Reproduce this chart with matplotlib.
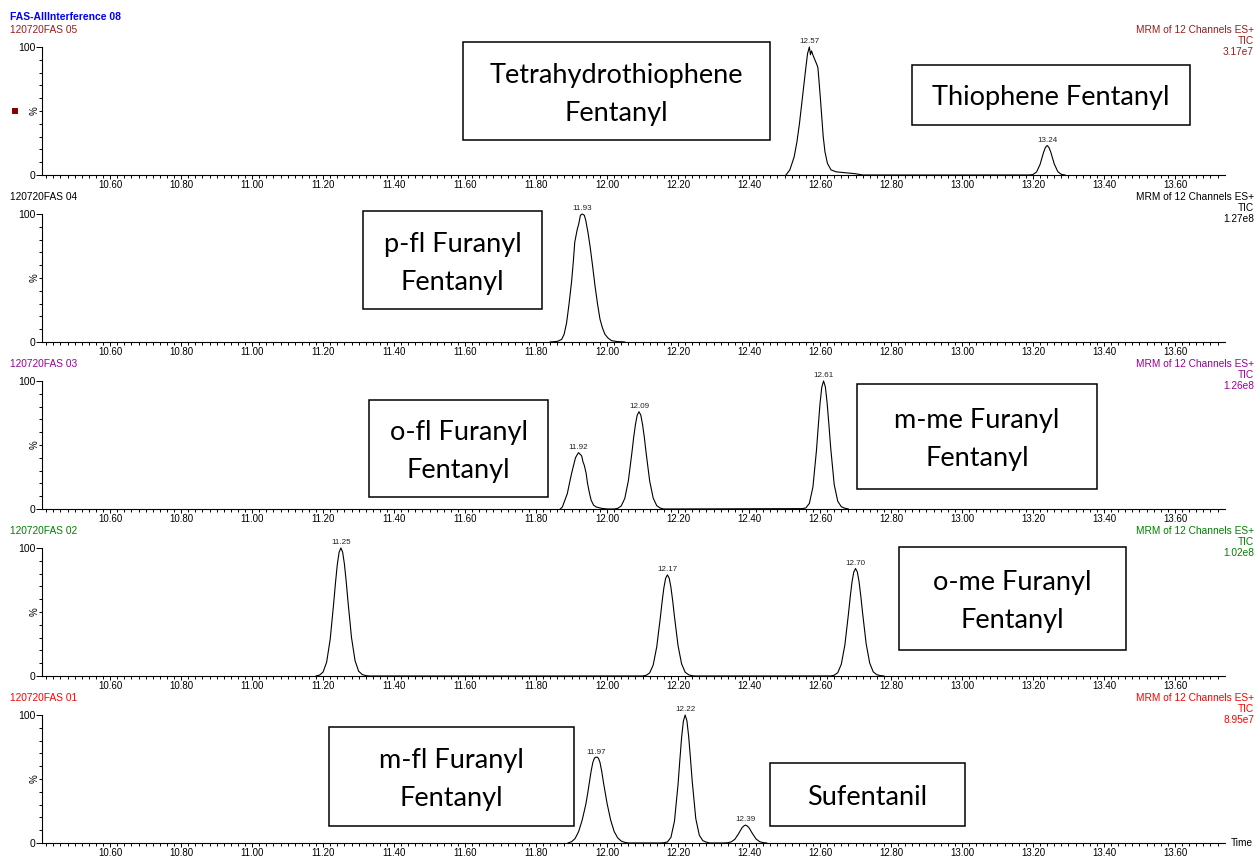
import numpy as np
import matplotlib.pyplot as plt
from matplotlib.patches import Rectangle

plt.rcParams['font.family'] = ['Liberation Sans', 'DejaVu Sans']

# traces: retention time (min) and relative intensity (%)
t_fas05 = [12.504, 12.515, 12.527, 12.535, 12.542, 12.549, 12.556, 12.561, 12.565, 12.570,
           12.573, 12.576, 12.581, 12.590, 12.594, 12.597, 12.601, 12.605, 12.609, 12.614,
           12.621, 12.631, 12.645, 12.670, 12.700, 12.720,
           13.19, 13.20, 13.21, 13.22, 13.23, 13.235, 13.24, 13.245, 13.25, 13.26, 13.27, 13.28, 13.29]
pct_fas05 = [0, 4, 14, 26, 40, 57, 74, 86, 95, 100,
             94, 97, 93, 87, 84, 74, 60, 45, 30, 18,
             9, 4, 2.5, 1.8, 1, 0,
             0, 0.4, 2.3, 8.3, 17.8, 21.5, 23, 21.5, 18, 8.6, 2.6, 0.5, 0]

t_fas04 = [11.84, 11.86, 11.872, 11.879, 11.886, 11.893, 11.900, 11.905, 11.909, 11.916,
           11.920, 11.925, 11.930, 11.936, 11.940, 11.946, 11.952, 11.959, 11.966, 11.973,
           11.980, 11.987, 11.994, 12.003, 12.013, 12.030, 12.05]
pct_fas04 = [0, 0.5, 2, 6, 15, 30, 47, 63, 78, 88,
             92, 99, 100, 99, 95, 86, 75, 60, 44, 30,
             18, 11, 6, 3, 1, 0.3, 0]

t_fas03 = [11.868, 11.874, 11.888, 11.897, 11.902, 11.911, 11.917, 11.920, 11.923, 11.927,
           11.929, 11.932, 11.936, 11.941, 11.945, 11.950, 11.955, 11.962, 11.970, 11.985, 12.00,
           12.02, 12.03, 12.04, 12.05, 12.06, 12.07, 12.075, 12.08, 12.085, 12.09,
           12.095, 12.10, 12.105, 12.11, 12.12, 12.13, 12.14, 12.15, 12.16,
           12.55, 12.56, 12.57, 12.58, 12.59, 12.595, 12.60, 12.605, 12.61,
           12.615, 12.62, 12.625, 12.63, 12.64, 12.65, 12.66, 12.67, 12.68]
pct_fas03 = [0, 1.5, 12, 24, 30, 40, 43, 44, 43, 42,
             41, 37, 34, 28, 20, 13, 7, 3, 1.5, 0.5, 0,
             0, 0.5, 2.4, 8.3, 22, 44, 56, 66, 73.4, 76,
             73.4, 66, 56, 44, 22, 8.5, 2.6, 0.7, 0,
             0.3, 0.8, 4.4, 17.2, 45.8, 64.5, 82.3, 95.2, 100,
             95.5, 83, 66, 48, 19, 6, 1.8, 0.6, 0]

t_fas02 = [11.18, 11.19, 11.20, 11.21, 11.22, 11.23, 11.235, 11.24, 11.245, 11.25,
           11.255, 11.26, 11.265, 11.27, 11.28, 11.29, 11.30, 11.31, 11.32, 11.33,
           12.10, 12.11, 12.12, 12.13, 12.14, 12.15, 12.155, 12.16, 12.165, 12.17,
           12.175, 12.18, 12.185, 12.19, 12.20, 12.21, 12.22, 12.23, 12.24, 12.25,
           12.63, 12.64, 12.65, 12.66, 12.67, 12.68, 12.685, 12.69, 12.695, 12.70,
           12.705, 12.71, 12.715, 12.72, 12.73, 12.74, 12.75, 12.76, 12.77, 12.78]
pct_fas02 = [0, 0.7, 3.1, 10.9, 28.8, 57.5, 73.2, 87.1, 96.6, 100,
             96.8, 87.5, 74, 58.5, 30, 12, 3.8, 1.2, 0.3, 0,
             0, 0.5, 2.4, 8.6, 22.8, 45.4, 57.8, 68.8, 76.3, 79,
             76.5, 69.2, 58.5, 46.2, 23.7, 9.5, 3, 0.9, 0.2, 0,
             0, 0.6, 2.6, 9.2, 24.2, 48.3, 61.5, 73.2, 81.1, 84,
             81.4, 73.7, 62.2, 49.1, 25.2, 10.1, 3.2, 1, 0.3, 0]

t_fas01 = [11.89, 11.90, 11.91, 11.92, 11.93, 11.94, 11.945, 11.95, 11.955, 11.96,
           11.964, 11.967, 11.970, 11.973, 11.976, 11.98, 11.985, 11.99, 11.995, 12.00,
           12.01, 12.02, 12.03, 12.04, 12.05, 12.06,
           12.15, 12.16, 12.17, 12.18, 12.19, 12.20, 12.205, 12.21, 12.215, 12.22,
           12.225, 12.23, 12.235, 12.24, 12.25, 12.26, 12.27, 12.28, 12.29,
           12.33, 12.34, 12.35, 12.36, 12.37, 12.38, 12.385, 12.39,
           12.395, 12.40, 12.41, 12.42, 12.43, 12.44, 12.45]
pct_fas01 = [0, 1, 3.5, 9, 18, 30, 38, 47, 56, 63,
             66, 67, 67, 67, 66, 63, 56, 47, 39, 31,
             18, 9, 4, 1.5, 0.5, 0,
             0, 0.2, 0.8, 4.4, 17.2, 45.8, 64.5, 82.3, 95.2, 100,
             95.5, 83, 66, 48, 19, 6, 1.8, 0.6, 0,
             0, 0.2, 0.9, 2.9, 7, 11.8, 13.3, 14,
             13.3, 11.9, 7.2, 3.1, 1, 0.3, 0]

# labelled peak tops per trace
peaks_fas05 = [(12.57, 100), (13.24, 23)]
peaks_fas04 = [(11.93, 100)]
peaks_fas03 = [(11.92, 44), (12.09, 76), (12.61, 100)]
peaks_fas02 = [(11.25, 100), (12.17, 79), (12.70, 84)]
peaks_fas01 = [(11.97, 67), (12.22, 100), (12.39, 14)]

sample_names = ['120720FAS 05', '120720FAS 04', '120720FAS 03', '120720FAS 02', '120720FAS 01']
sample_colors = ['#9b1c1c', '#000000', '#990099', '#008000', '#ff0000']
tic_scales = ['3.17e7', '1.27e8', '1.26e8', '1.02e8', '8.95e7']
x_ticks = [10.60, 10.80, 11.00, 11.20, 11.40, 11.60, 11.80, 12.00,
           12.20, 12.40, 12.60, 12.80, 13.00, 13.20, 13.40, 13.60]

# compound call-outs: text and box (left, top, right, bottom) in pixels
callouts = [
    ('Tetrahydrothiophene\nFentanyl', (463, 42, 770, 140)),
    ('Thiophene Fentanyl', (912, 65, 1190, 125)),
    ('p-fl Furanyl\nFentanyl', (363, 211, 542, 309)),
    ('o-fl Furanyl\nFentanyl', (369, 400, 548, 497)),
    ('m-me Furanyl\nFentanyl', (857, 384, 1097, 489)),
    ('o-me Furanyl\nFentanyl', (899, 547, 1126, 650)),
    ('m-fl Furanyl\nFentanyl', (329, 727, 574, 826)),
    ('Sufentanil', (770, 763, 965, 826)),
]

traces = [(t_fas05, pct_fas05, peaks_fas05), (t_fas04, pct_fas04, peaks_fas04),
          (t_fas03, pct_fas03, peaks_fas03), (t_fas02, pct_fas02, peaks_fas02),
          (t_fas01, pct_fas01, peaks_fas01)]

W, H = 1259, 857
fig = plt.figure(figsize=(W / 100, H / 100), dpi=100)


def fx(px):
    return px / W


def fy(py):
    return 1 - py / H


fig.text(fx(10), fy(17), 'FAS-AllInterference 08', color='#0000ff',
         fontsize=7.5, fontweight='bold', va='center')

for i, (t, pct, peaks) in enumerate(traces):
    top = 47 + 167 * i
    ax = fig.add_axes([fx(42), fy(top + 128), fx(1225 - 42), 128 / H])
    ax.plot(t, pct, color='black', lw=0.8, clip_on=False)
    for rt, h in peaks:
        ax.annotate('%.2f' % rt, (rt, h), xytext=(0, 1.2), textcoords='offset points',
                    ha='center', va='bottom', fontsize=5.8, color='#222222')

    ax.set_xlim(10.408, 13.741)
    ax.set_ylim(0, 100)
    for side in ['top', 'right']:
        ax.spines[side].set_visible(False)
    for side in ['left', 'bottom']:
        ax.spines[side].set_linewidth(0.8)
    ax.set_xticks(x_ticks)
    ax.set_xticklabels(['%.2f' % v for v in x_ticks])
    ax.set_xticks(np.arange(10.42, 13.74, 0.02), minor=True)
    ax.set_yticks([0, 100])
    ax.set_yticklabels(['0', '100'])
    ax.set_yticks(np.arange(10, 100, 10), minor=True)
    ax.tick_params(which='major', direction='out', length=3, width=0.7,
                   labelsize=7, pad=0.5)
    ax.tick_params(which='minor', direction='out', length=2, width=0.7)
    ax.tick_params(axis='y', which='major', length=4, pad=0.5, labelsize=7.5)

    fig.text(fx(35), fy(top + 64), '%', rotation=90, fontsize=7,
             ha='center', va='center')
    col = sample_colors[i]
    fig.text(fx(10), fy(top - 17), sample_names[i], color=col, fontsize=7.3, va='center')
    fig.text(fx(1254), fy(top - 17), 'MRM of 12 Channels ES+', color=col,
             fontsize=7.3, ha='right', va='center')
    fig.text(fx(1254), fy(top - 6), 'TIC', color=col, fontsize=7.3, ha='right', va='center')
    fig.text(fx(1254), fy(top + 5), tic_scales[i], color=col, fontsize=7.3,
             ha='right', va='center')

fig.text(fx(1231), fy(843), 'Time', fontsize=7.3, va='center')

# selected-trace marker
fig.add_artist(Rectangle((fx(12), fy(114)), fx(6), 6 / H, transform=fig.transFigure,
                         facecolor='#8b0000', edgecolor='none'))

for label, (x0, y0, x1, y1) in callouts:
    fig.add_artist(Rectangle((fx(x0), fy(y1)), fx(x1 - x0), (y1 - y0) / H,
                             transform=fig.transFigure, facecolor='white',
                             edgecolor='black', lw=1.1))
    fig.text(fx((x0 + x1) / 2), fy((y0 + y1) / 2 + 3), label, ha='center', va='center',
             fontsize=19.5, family=['Lato', 'DejaVu Sans'], linespacing=1.65)

fig.savefig('out.png', dpi=100)
